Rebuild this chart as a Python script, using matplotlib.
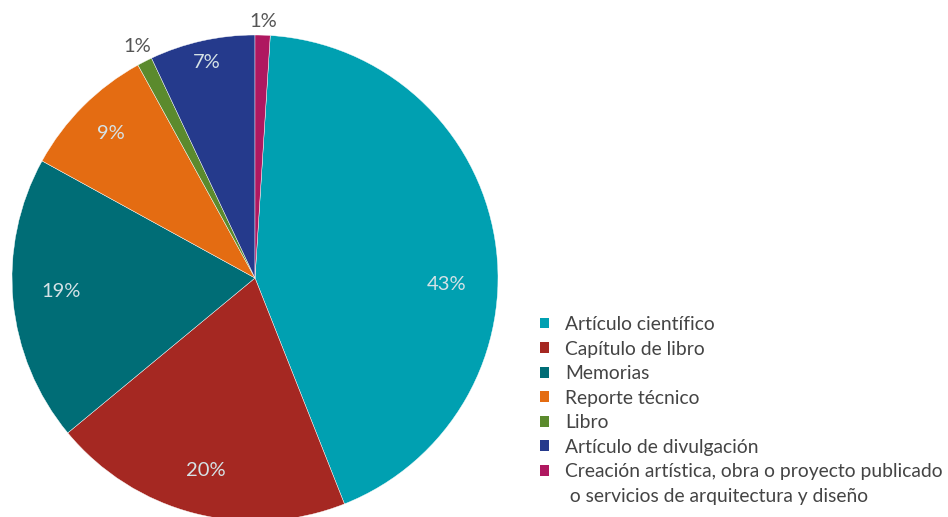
import numpy as np
import matplotlib
matplotlib.use("Agg")
import matplotlib.pyplot as plt
from matplotlib.patches import Patch

plt.rcParams['font.family'] = ['Lato', 'DejaVu Sans']

categories = ["Artículo científico", "Capítulo de libro", "Memorias", "Reporte técnico",
              "Libro", "Artículo de divulgación",
              "Creación artística, obra o proyecto publicado\n o servicios de arquitectura y diseño"]
values = [43, 20, 19, 9, 1, 7, 1]
colors = ["#00A0B1", "#A52822", "#006D76", "#E46C12", "#5B8A2D", "#253A8C", "#AF1860"]

# label styling (distance from centre, angular shift, inside/outside)
label_dist = [0.79, 0.82, 0.80, 0.84, 1.07, 0.91, 1.055]
label_shift = [-11, 0, -1.5, 0, 0, 0, 0]
inside = [True, True, True, True, False, True, False]

fig = plt.figure(figsize=(9.48, 5.17), dpi=100)
W, H = 948, 517
cx, cy, R = 255, 278, 243
ax = fig.add_axes([(cx - R) / W, (H - cy - R) / H, 2 * R / W, 2 * R / H])

start = 90 - values[-1] / sum(values) * 360
wedges, _ = ax.pie(values, colors=colors, startangle=start, counterclock=False,
                   radius=1, wedgeprops=dict(edgecolor="white", linewidth=0.3))
ax.set_xlim(-1, 1)
ax.set_ylim(-1, 1)
ax.set_aspect('equal')
ax.axis('off')

for w, v, d, s, ins in zip(wedges, values, label_dist, label_shift, inside):
    ang = np.deg2rad((w.theta1 + w.theta2) / 2 + s)
    ax.text(d * np.cos(ang), d * np.sin(ang), f"{v}%", ha="center", va="center",
            fontsize=14.5, color="#D5E2E6" if ins else "#555555", clip_on=False)

handles = []
labels = []
for c, lab in zip(colors, categories):
    parts = lab.split("\n")
    handles.append(Patch(facecolor=c, edgecolor="none"))
    labels.append(parts[0])
    for p in parts[1:]:
        handles.append(Patch(facecolor="none", edgecolor="none"))
        labels.append(p)

leg = fig.legend(handles, labels, loc="upper left", bbox_to_anchor=(540 / W, 1 - 316 / H),
                 frameon=False, prop=dict(size=13.9),
                 handlelength=0.47, handleheight=0.47,
                 handletextpad=0.83, labelspacing=0.39, borderpad=0, borderaxespad=0)
for t in leg.get_texts():
    t.set_color("#444444")

fig.savefig("out.png", dpi=100)
